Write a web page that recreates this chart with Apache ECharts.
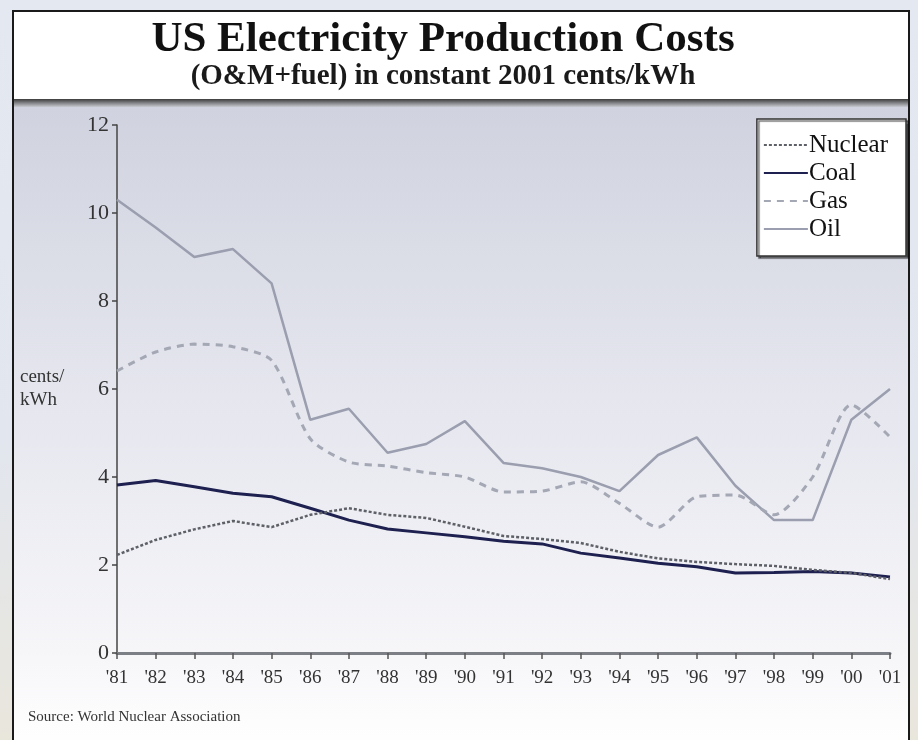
<!DOCTYPE html>
<html>
<head>
<meta charset="utf-8">
<style>
  html, body { margin: 0; padding: 0; background: #dfe4ec; }
  #chart { width: 918px; height: 740px; }
</style>
<script src="https://cdn.jsdelivr.net/npm/echarts@6/dist/echarts.min.js"></script>
</head>
<body>
<div id="chart"></div>
<script>
// Production cost in constant 2001 cents/kWh, 1981-2001
const years = ["'81", "'82", "'83", "'84", "'85", "'86", "'87", "'88", "'89", "'90",
               "'91", "'92", "'93", "'94", "'95", "'96", "'97", "'98", "'99", "'00", "'01"];
const nuclear = [2.23, 2.57, 2.81, 3.0, 2.86, 3.14, 3.29, 3.14, 3.07, 2.87,
                 2.66, 2.59, 2.5, 2.3, 2.15, 2.07, 2.02, 1.98, 1.89, 1.82, 1.68];
const coal = [3.82, 3.92, 3.78, 3.63, 3.55, 3.29, 3.02, 2.82, 2.73, 2.64,
              2.54, 2.48, 2.27, 2.16, 2.04, 1.96, 1.82, 1.83, 1.85, 1.82, 1.73];
const gas = [6.41, 6.84, 7.02, 6.96, 6.65, 4.87, 4.34, 4.25, 4.1, 4.0,
             3.66, 3.68, 3.89, 3.4, 2.86, 3.55, 3.59, 3.14, 4.0, 5.64, 4.91];
const oil = [10.3, 9.67, 9.0, 9.18, 8.4, 5.3, 5.55, 4.55, 4.75, 5.27,
             4.32, 4.2, 4.0, 3.68, 4.5, 4.9, 3.8, 3.02, 3.02, 5.3, 6.0];
const yTicks = [0, 2, 4, 6, 8, 10, 12];

const SERIF = '"Liberation Serif", "DejaVu Serif", serif';
const chart = echarts.init(document.getElementById('chart'), null, { renderer: 'canvas' });

const option = {
  backgroundColor: new echarts.graphic.LinearGradient(0, 0, 0, 1, [
    { offset: 0, color: '#e4e9f1' },
    { offset: 0.6, color: '#e2e6ee' },
    { offset: 1, color: '#e9e6dc' }
  ]),
  animation: false,
  graphic: [
    // white card with black frame
    { type: 'rect', z: -10, shape: { x: 13, y: 11, width: 896, height: 760 },
      style: { fill: '#ffffff', stroke: '#1a1a1a', lineWidth: 2 } },
    // shaded band under the heading
    { type: 'rect', z: -9, shape: { x: 14, y: 99, width: 894, height: 8 },
      style: { fill: new echarts.graphic.LinearGradient(0, 0, 0, 1, [
        { offset: 0, color: '#3c3c3c' }, { offset: 1, color: '#c8cad2' }]) } },
    // plot panel gradient
    { type: 'rect', z: -9, shape: { x: 14, y: 107, width: 894, height: 640 },
      style: { fill: new echarts.graphic.LinearGradient(0, 0, 0, 1, [
        { offset: 0, color: '#d0d3df' },
        { offset: 0.45, color: '#e5e6ee' },
        { offset: 0.85, color: '#f6f6f9' },
        { offset: 1, color: '#ffffff' }]) } },
    // source note
    { type: 'text', left: 28, top: 710, z: 5,
      style: { text: 'Source: World Nuclear Association', fill: '#333',
               font: '15px ' + SERIF } }
  ],
  title: {
    text: 'US Electricity Production Costs',
    subtext: '(O&M+fuel) in constant 2001 cents/kWh',
    left: 438,
    top: 13,
    textAlign: 'center',
    itemGap: 1,
    textStyle: { fontFamily: SERIF, fontWeight: 'bold', fontSize: 43, color: '#111' },
    subtextStyle: { fontFamily: SERIF, fontWeight: 'bold', fontSize: 29, color: '#1a1a1a' }
  },
  legend: {
    data: ['Nuclear', 'Coal', 'Gas', 'Oil'],
    orient: 'vertical',
    right: 12,
    top: 119,
    itemWidth: 44,
    itemHeight: 14,
    itemGap: 2,
    padding: [13, 18, 14, 6],
    backgroundColor: '#ffffff',
    borderColor: '#333',
    borderWidth: 1.5,
    shadowColor: 'rgba(0,0,0,0.55)',
    shadowOffsetX: 2,
    shadowOffsetY: 2,
    shadowBlur: 1,
    itemStyle: { color: 'transparent', borderColor: 'transparent', borderWidth: 0 },
    textStyle: { fontFamily: SERIF, fontSize: 25, lineHeight: 26, color: '#111', padding: [0, 0, 0, -4] }
  },
  grid: { left: 117, right: 28, top: 125, bottom: 87 },
  xAxis: {
    type: 'category',
    data: years,
    boundaryGap: false,
    axisLine: { lineStyle: { color: '#7d7f86', width: 3 } },
    axisTick: { show: true, length: 6, alignWithLabel: true, lineStyle: { color: '#555', width: 1.5 } },
    axisLabel: { fontFamily: SERIF, fontSize: 19, color: '#333', margin: 16, interval: 0 },
    splitLine: { show: false }
  },
  yAxis: {
    type: 'value',
    min: 0,
    max: 12,
    interval: 2,
    name: 'cents/\nkWh',
    nameLocation: 'middle',
    nameRotate: 0,
    nameGap: 97,
    nameTextStyle: { fontFamily: SERIF, fontSize: 19, color: '#333', lineHeight: 23,
                     align: 'left', padding: [14, 0, 0, 0] },
    axisLine: { show: true, lineStyle: { color: '#444', width: 1.5 } },
    axisTick: { show: true, length: 5, lineStyle: { color: '#444', width: 1.5 } },
    axisLabel: {
      fontFamily: SERIF, fontSize: 22, color: '#333', margin: 8,
      formatter: v => (yTicks.includes(v) ? String(v) : '')
    },
    splitLine: { show: false }
  },
  series: [
    {
      name: 'Oil', type: 'line', data: oil, symbol: 'none', z: 2,
      lineStyle: { color: '#9a9eae', width: 2.5 },
      itemStyle: { color: '#9a9eae' }
    },
    {
      name: 'Gas', type: 'line', data: gas, symbol: 'none', smooth: 0.25, z: 3,
      lineStyle: { color: '#a4a7b4', width: 3, type: [7, 6] },
      itemStyle: { color: '#a4a7b4' }
    },
    {
      name: 'Coal', type: 'line', data: coal, symbol: 'none', z: 4,
      lineStyle: { color: '#1e2050', width: 3 },
      itemStyle: { color: '#1e2050' }
    },
    {
      name: 'Nuclear', type: 'line', data: nuclear, symbol: 'none', z: 5,
      lineStyle: { color: '#5e6068', width: 2.5, type: [3, 2] },
      itemStyle: { color: '#5e6068' }
    }
  ]
};

chart.setOption(option);
</script>
</body>
</html>
